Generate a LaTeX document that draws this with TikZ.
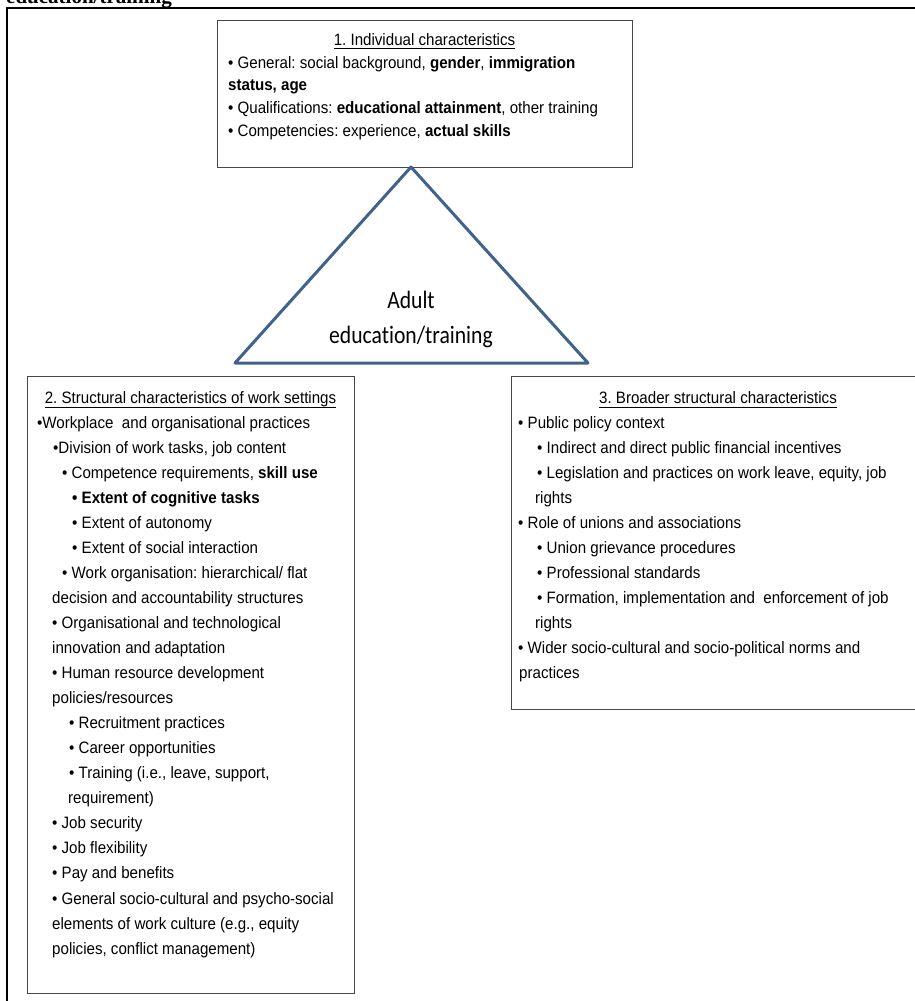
\documentclass[tikz,border=0pt]{standalone}
\usepackage{fontspec}
\setmainfont{Liberation Sans}[FakeStretch=0.916]
\newfontfamily\trifont{Carlito}[FakeStretch=0.866,Ligatures=NoCommon]
\newfontfamily\capfont{Liberation Serif}
\definecolor{triblue}{RGB}{65,98,140}
\newcommand\myul[2]{\setbox0=\hbox{#2}\rlap{\rule[-#1]{\wd0}{0.9pt}}\box0}
\frenchspacing
\begin{document}
\begin{tikzpicture}[x=1pt,y=-1pt,
  bodyln/.style={anchor=base west, inner sep=0pt, font=\fontsize{16.5}{19}\selectfont},
  titleln/.style={anchor=base, inner sep=0pt, font=\fontsize{16.5}{19}\selectfont},
  boxst/.style={draw=black!72, line width=1.3pt, inner sep=0pt, anchor=north west},
  tri/.style={draw=triblue, line width=3pt, line join=round},
  trilabel/.style={anchor=base, inner sep=0pt, font=\trifont\fontsize{25}{25}\selectfont}]
\useasboundingbox (0,0) rectangle (915,1001);
\clip (0,0) rectangle (915,1001);
% caption remnant
\node[anchor=base west, inner sep=0pt, font=\capfont\bfseries\fontsize{21}{21}\selectfont] (cap) at (6,4) {education/training};
% outer frame
\draw[line width=2pt, black] (7,8) rectangle (940,1020);
% boxes
\node[boxst, minimum width=415pt, minimum height=147pt] (box1) at (217,20) {};
\node[boxst, minimum width=327pt, minimum height=617pt] (box2) at (27,376) {};
\node[boxst, minimum width=414pt, minimum height=333pt] (box3) at (511,376) {};
% triangle
\coordinate (apex) at (411,167);
\coordinate (bl) at (235,363);
\coordinate (br) at (588,363);
\draw[tri] (apex) -- (br) -- (bl) -- cycle;
\node[trilabel] (adult) at (411,308) {Adult};
\node[trilabel] (edu) at (411,343) {education/training};
% box 1 text
\node[titleln] (t1) at (424.5,45) {\myul{4pt}{1. Individual characteristics}};
\node[bodyln] (a1) at (228,68) {• General: social background, \textbf{gender}, \textbf{immigration}};
\node[bodyln] (a2) at (228,90.5) {\textbf{status, age}};
\node[bodyln] (a3) at (228,113) {• Qualifications: \textbf{educational attainment}, other training};
\node[bodyln] (a4) at (228,136) {• Competencies: experience, \textbf{actual skills}};
% box 2 text
\node[titleln] (t2) at (190.5,403) {\myul{5pt}{2. Structural characteristics of work settings}};
\node[bodyln] (b1) at (37,428) {•Workplace\ \ and organisational practices};
\node[bodyln] (b2) at (53,453) {•Division of work tasks, job content};
\node[bodyln] (b3) at (62,478) {• Competence requirements, \textbf{skill use}};
\node[bodyln] (b4) at (72,503) {\textbf{• Extent of cognitive tasks}};
\node[bodyln] (b5) at (72,528) {• Extent of autonomy};
\node[bodyln] (b6) at (72,553) {• Extent of social interaction};
\node[bodyln] (b7) at (62,578) {• Work organisation: hierarchical/ flat};
\node[bodyln] (b8) at (52,603) {decision and accountability structures};
\node[bodyln] (b9) at (52,628) {• Organisational and technological};
\node[bodyln] (b10) at (52,653) {innovation and adaptation};
\node[bodyln] (b11) at (52,678) {• Human resource development};
\node[bodyln] (b12) at (52,703) {policies/resources};
\node[bodyln] (b13) at (69,728) {• Recruitment practices};
\node[bodyln] (b14) at (69,753) {• Career opportunities};
\node[bodyln] (b15) at (69,778) {• Training (i.e., leave, support,};
\node[bodyln] (b16) at (68,803) {requirement)};
\node[bodyln] (b17) at (52,828) {• Job security};
\node[bodyln] (b18) at (52,853) {• Job flexibility};
\node[bodyln] (b19) at (52,878.5) {• Pay and benefits};
\node[bodyln] (b20) at (52,904) {• General socio-cultural and psycho-social};
\node[bodyln] (b21) at (52,929) {elements of work culture (e.g., equity};
\node[bodyln] (b22) at (52,954) {policies, conflict management)};
% box 3 text
\node[titleln] (t3) at (718,403) {\myul{5pt}{3. Broader structural characteristics}};
\node[bodyln] (c1) at (518,428) {• Public policy context};
\node[bodyln] (c2) at (537,453) {• Indirect and direct public financial incentives};
\node[bodyln] (c3) at (537,478) {• Legislation and practices on work leave, equity, job};
\node[bodyln] (c4) at (535,503) {rights};
\node[bodyln] (c5) at (518,528) {• Role of unions and associations};
\node[bodyln] (c6) at (537,553) {• Union grievance procedures};
\node[bodyln] (c7) at (537,578) {• Professional standards};
\node[bodyln] (c8) at (537,603) {• Formation, implementation and\ \ enforcement of job};
\node[bodyln] (c9) at (535,628) {rights};
\node[bodyln] (c10) at (518,653) {• Wider socio-cultural and socio-political norms and};
\node[bodyln] (c11) at (519,678) {practices};
\end{tikzpicture}
\end{document}
